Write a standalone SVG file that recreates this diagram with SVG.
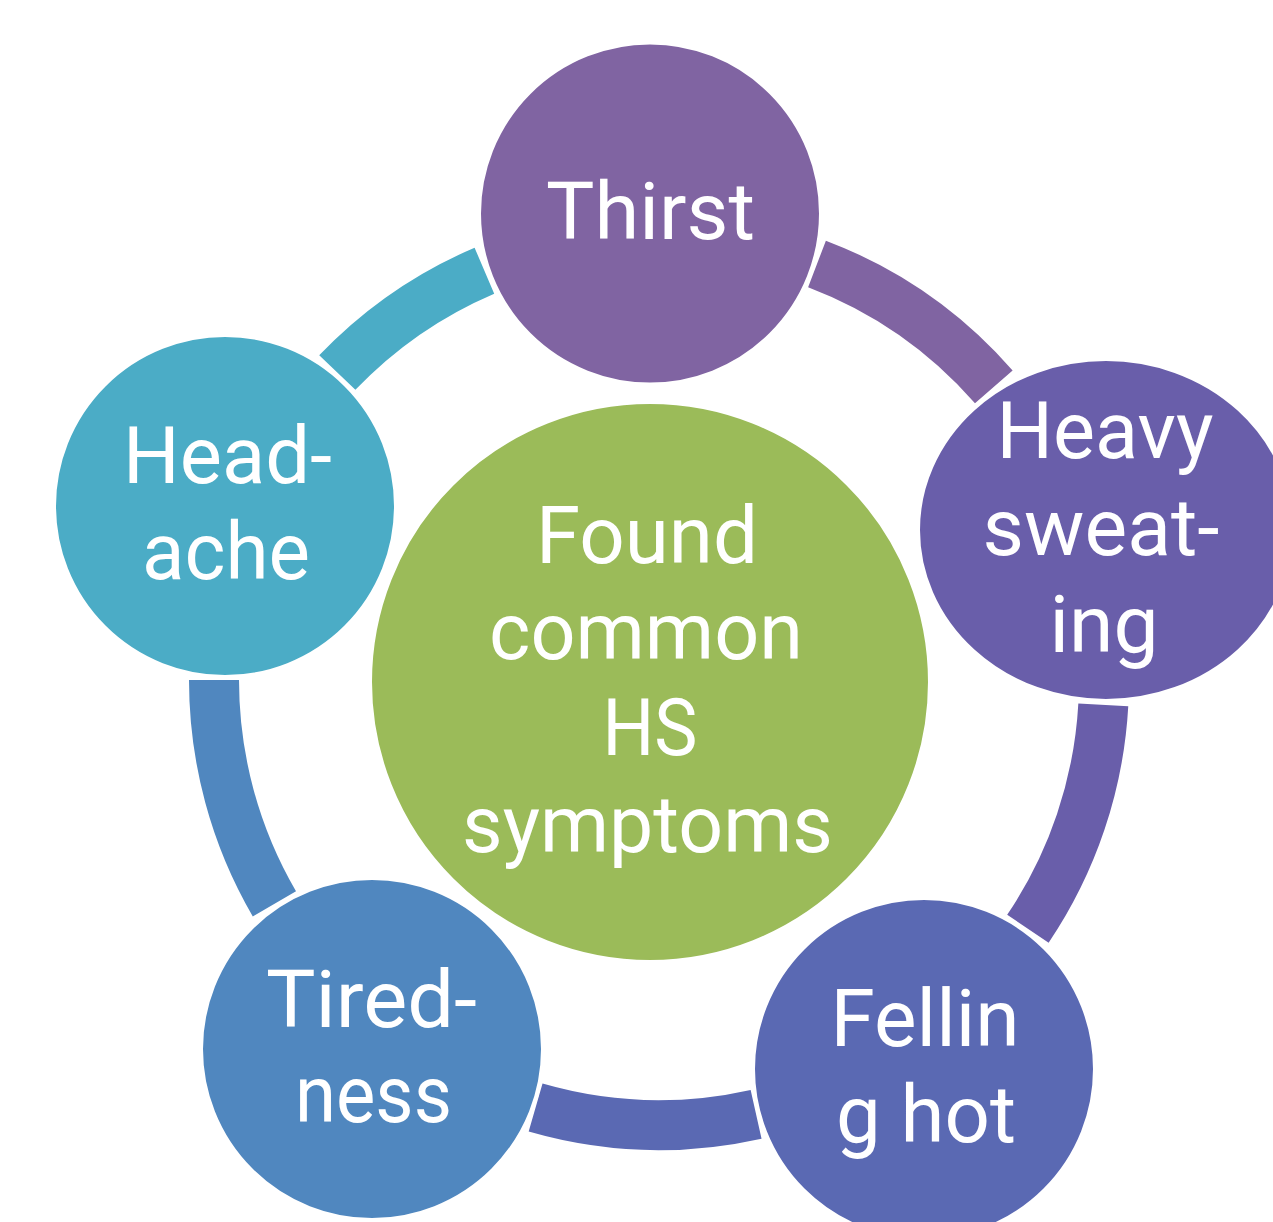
<svg xmlns="http://www.w3.org/2000/svg" width="1273" height="1222" viewBox="0 0 1273 1222">
<style>
.arc{fill:none;stroke-width:50;stroke-linecap:butt}
.node{stroke:#FFFFFF;stroke-width:4}
.lbl{font-family:Roboto,"Noto Sans","Liberation Sans",sans-serif;font-size:79px;fill:#FFFFFF;text-anchor:middle}
</style>
<rect width="1273" height="1222" fill="#FFFFFF"/>
<g id="connectors">
<path class="arc" stroke="#8064A2" d="M817.0,264.0 A445,445 0 0 1 993.8,386.9"/>
<path class="arc" stroke="#695EAA" d="M1103.3,704.8 A445,445 0 0 1 1027.9,928.8"/>
<path class="arc" stroke="#5A69B3" d="M756.1,1114.3 A445,445 0 0 1 535.6,1107.6"/>
<path class="arc" stroke="#5087BF" d="M274.4,903.8 A445,445 0 0 1 214,680"/>
<path class="arc" stroke="#4BACC6" d="M337.3,372.6 A445,445 0 0 1 484.4,270.7"/>
</g>
<g id="center">
<circle class="node" cx="650" cy="682" r="280" fill="#9BBB59"/>
<text class="lbl" x="647" y="563" textLength="222" lengthAdjust="spacingAndGlyphs">Found</text>
<text class="lbl" x="646" y="659" textLength="314" lengthAdjust="spacingAndGlyphs">common</text>
<text class="lbl" x="650" y="755" textLength="95" lengthAdjust="spacingAndGlyphs">HS</text>
<text class="lbl" x="647.5" y="852" textLength="371" lengthAdjust="spacingAndGlyphs">symptoms</text>
</g>
<g id="thirst">
<circle class="node" cx="650" cy="213.5" r="171" fill="#8064A2"/>
<text class="lbl" x="650.5" y="239" textLength="209" lengthAdjust="spacingAndGlyphs">Thirst</text>
</g>
<g id="heavy-sweating">
<ellipse class="node" cx="1106" cy="530" rx="188" ry="171" fill="#695EAA"/>
<text class="lbl" x="1105" y="458" textLength="217" lengthAdjust="spacingAndGlyphs">Heavy</text>
<text class="lbl" x="1101" y="555" textLength="237" lengthAdjust="spacingAndGlyphs">sweat-</text>
<text class="lbl" x="1104" y="652" textLength="109" lengthAdjust="spacingAndGlyphs">ing</text>
</g>
<g id="felling-hot">
<circle class="node" cx="924" cy="1069" r="171" fill="#5A69B3"/>
<text class="lbl" x="925" y="1046" textLength="189" lengthAdjust="spacingAndGlyphs">Fellin</text>
<text class="lbl" x="926" y="1142" textLength="180" lengthAdjust="spacingAndGlyphs">g hot</text>
</g>
<g id="tiredness">
<circle class="node" cx="372" cy="1049" r="171" fill="#5087BF"/>
<text class="lbl" x="371.5" y="1027" textLength="211" lengthAdjust="spacingAndGlyphs">Tired-</text>
<text class="lbl" x="373.5" y="1122" textLength="157" lengthAdjust="spacingAndGlyphs">ness</text>
</g>
<g id="headache">
<circle class="node" cx="225" cy="506" r="171" fill="#4BACC6"/>
<text class="lbl" x="227.5" y="483" textLength="209" lengthAdjust="spacingAndGlyphs">Head-</text>
<text class="lbl" x="226" y="579" textLength="168" lengthAdjust="spacingAndGlyphs">ache</text>
</g>
</svg>
